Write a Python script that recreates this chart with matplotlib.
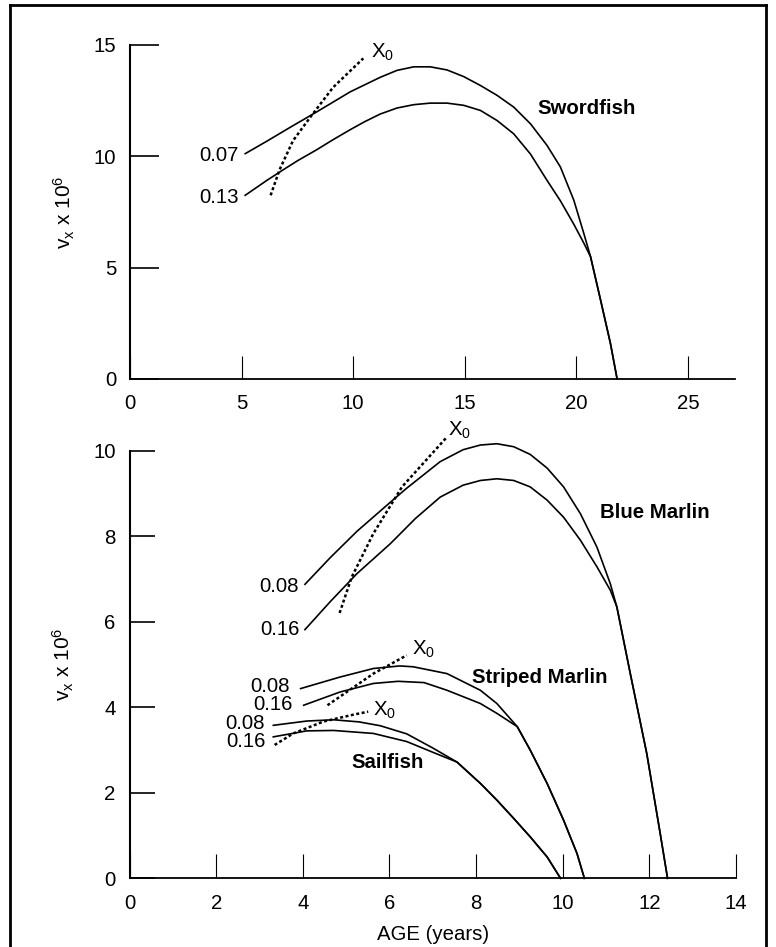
import matplotlib
matplotlib.use("Agg")
import matplotlib.pyplot as plt
from matplotlib.lines import Line2D

plt.rcParams['font.family'] = ['Liberation Sans', 'DejaVu Sans']
plt.rcParams['mathtext.fontset'] = 'custom'
plt.rcParams['mathtext.rm'] = 'Liberation Sans'
plt.rcParams['mathtext.default'] = 'regular'

# swordfish (top panel)
sword_age_07 = [5.16, 6.13, 7.17, 8.37, 9.87, 11.21, 11.96, 12.71, 13.45, 14.2, 14.95, 15.7, 16.44, 17.19,
                17.94, 18.68, 19.28, 19.88, 20.33, 20.63, 21.08, 21.52, 21.82]
sword_v_07 = [10.12, 10.68, 11.3, 12.0, 12.9, 13.55, 13.86, 14.02, 14.02, 13.88, 13.58, 13.18, 12.74, 12.21,
              11.46, 10.49, 9.52, 8.03, 6.53, 5.49, 3.54, 1.6, 0]
sword_age_13 = [5.16, 6.13, 6.87, 7.5, 8.37, 9.1, 9.87, 10.5, 11.21, 11.96, 12.71, 13.45, 14.2, 14.95, 15.7,
                16.44, 17.19, 17.94, 18.68, 19.28, 19.88, 20.33, 20.63, 21.08, 21.52, 21.82]
sword_v_13 = [8.25, 8.92, 9.4, 9.8, 10.3, 10.75, 11.2, 11.55, 11.9, 12.17, 12.32, 12.39, 12.39, 12.29, 12.06,
              11.61, 11.01, 10.1, 8.92, 8.0, 6.95, 6.1, 5.49, 3.54, 1.6, 0]
sword_x0_age = [6.3, 6.7, 7.3, 8.07, 9.1, 10.45]
sword_x0_v = [8.25, 9.4, 10.7, 11.75, 13.1, 14.4]

# blue marlin
blue_age_08 = [4.05, 4.63, 5.25, 6.02, 6.4, 7.17, 7.7, 8.1, 8.48, 8.87, 9.25, 9.64, 10.02, 10.41, 10.79,
               11.1, 11.25, 11.56, 11.94, 12.25, 12.42]
blue_v_08 = [6.88, 7.5, 8.12, 8.8, 9.13, 9.75, 10.03, 10.14, 10.17, 10.1, 9.92, 9.6, 9.16, 8.53, 7.75,
             6.89, 6.35, 4.79, 2.92, 1.05, 0]
blue_age_16 = [4.05, 4.63, 5.25, 6.02, 6.6, 7.17, 7.7, 8.1, 8.48, 8.87, 9.25, 9.64, 10.02, 10.41, 10.79,
               11.1, 11.25, 11.56, 11.94, 12.25, 12.42]
blue_v_16 = [5.82, 6.47, 7.13, 7.83, 8.42, 8.92, 9.2, 9.31, 9.35, 9.31, 9.16, 8.85, 8.45, 7.91, 7.29,
             6.74, 6.35, 4.79, 2.92, 1.05, 0]
blue_x0_age = [4.85, 5.13, 5.63, 6.29, 7.33]
blue_x0_v = [6.21, 7.05, 8.07, 9.16, 10.33]

# striped marlin
striped_age_08 = [3.95, 4.86, 5.63, 6.24, 6.55, 7.33, 8.1, 8.48, 8.95, 9.25, 9.64, 10.02, 10.33, 10.5]
striped_v_08 = [4.44, 4.71, 4.91, 4.97, 4.95, 4.79, 4.4, 4.09, 3.55, 3.0, 2.22, 1.36, 0.58, 0]
striped_age_16 = [4.02, 4.86, 5.63, 6.2, 6.8, 7.33, 8.1, 8.48, 8.95, 9.25, 9.64, 10.02, 10.33, 10.5]
striped_v_16 = [4.05, 4.36, 4.56, 4.61, 4.58, 4.4, 4.09, 3.86, 3.55, 3.0, 2.22, 1.36, 0.58, 0]
striped_x0_age = [4.57, 5.63, 6.4]
striped_x0_v = [4.05, 4.79, 5.22]

# sailfish
sail_age_08 = [3.32, 4.09, 4.71, 5.3, 5.79, 6.4, 7.0, 7.56, 8.1, 8.48, 8.87, 9.25, 9.64, 9.95]
sail_v_08 = [3.58, 3.68, 3.71, 3.66, 3.57, 3.38, 3.05, 2.72, 2.22, 1.83, 1.4, 0.97, 0.5, 0]
sail_age_16 = [3.32, 4.09, 4.71, 5.63, 6.4, 7.0, 7.56, 8.1, 8.48, 8.87, 9.25, 9.64, 9.95]
sail_v_16 = [3.31, 3.45, 3.46, 3.39, 3.2, 2.95, 2.72, 2.22, 1.83, 1.4, 0.97, 0.5, 0]
sail_x0_age = [3.35, 3.78, 4.48, 5.17, 5.51]
sail_x0_v = [3.12, 3.39, 3.67, 3.83, 3.9]

ylab = r"v$_{\mathregular{x}}$ x 10$^{\mathregular{6}}$"
fs = 14.7
lw = 1.2
dash = dict(color='k', lw=1.8, linestyle=(0, (1.2, 1.0)), clip_on=False)
solid = dict(color='k', lw=lw, clip_on=False)

fig = plt.figure(figsize=(7.76, 9.47), dpi=100)

# frame around the figure
fy = 1 - 5/947
fig.add_artist(Line2D([10/776, 10/776], [0, fy], color='k', lw=2, transform=fig.transFigure))
fig.add_artist(Line2D([10/776, 766/776], [fy, fy], color='k', lw=2, transform=fig.transFigure))
fig.add_artist(Line2D([766/776, 766/776], [0, fy], color='k', lw=2, transform=fig.transFigure))


def style(ax, xlen, ylen):
    for s in ['top', 'right']:
        ax.spines[s].set_visible(False)
    ax.spines['left'].set_linewidth(1.5)
    ax.spines['bottom'].set_linewidth(1.3)
    ax.tick_params(axis='x', direction='in', length=xlen, width=0.8, pad=11, labelsize=fs)
    ax.tick_params(axis='y', direction='in', length=ylen, width=1.2, pad=10, labelsize=fs)
    ax.set_ylabel(ylab, fontsize=15)
    ax.yaxis.set_label_coords(-0.088, 0.5)


# top panel
ax1 = fig.add_axes([130/776, 1 - 379/947, 605/776, 334/947])
ax1.set_xlim(0, 27.1)
ax1.set_ylim(0, 15)
ax1.set_xticks([0, 5, 10, 15, 20, 25])
ax1.set_yticks([0, 5, 10, 15])
style(ax1, 16.5, 21)
ax1.plot(sword_age_07, sword_v_07, **solid)
ax1.plot(sword_age_13, sword_v_13, **solid)
ax1.plot(sword_x0_age, sword_x0_v, **dash)
ax1.text(4.86, 10.04, "0.07", ha='right', va='center', fontsize=fs)
ax1.text(4.86, 8.15, "0.13", ha='right', va='center', fontsize=fs)
ax1.text(10.79, 14.68, "X$_0$", ha='left', va='center', fontsize=fs, clip_on=False)
ax1.text(18.24, 12.14, "Swordfish", ha='left', va='center', fontsize=fs, fontweight='bold')

# bottom panel
ax2 = fig.add_axes([129.5/776, 1 - 878.3/947, 606.5/776, 427.3/947])
ax2.set_xlim(0, 14)
ax2.set_ylim(0, 10)
ax2.set_xticks(range(0, 15, 2))
ax2.set_yticks(range(0, 11, 2))
style(ax2, 17, 18)
for a, v in [(blue_age_08, blue_v_08), (blue_age_16, blue_v_16),
             (striped_age_08, striped_v_08), (striped_age_16, striped_v_16),
             (sail_age_08, sail_v_08), (sail_age_16, sail_v_16)]:
    ax2.plot(a, v, **solid)
ax2.plot(blue_x0_age, blue_x0_v, **dash)
ax2.plot(striped_x0_age, striped_x0_v, **dash)
ax2.plot(sail_x0_age, sail_x0_v, **dash)

ax2.text(3.9, 6.82, "0.08", ha='right', va='center', fontsize=fs)
ax2.text(3.92, 5.82, "0.16", ha='right', va='center', fontsize=fs)
ax2.text(3.69, 4.5, "0.08", ha='right', va='center', fontsize=fs)
ax2.text(3.76, 4.07, "0.16", ha='right', va='center', fontsize=fs)
ax2.text(3.13, 3.62, "0.08", ha='right', va='center', fontsize=fs)
ax2.text(3.15, 3.19, "0.16", ha='right', va='center', fontsize=fs)
ax2.text(7.36, 10.48, "X$_0$", ha='left', va='center', fontsize=fs, clip_on=False)
ax2.text(6.52, 5.35, "X$_0$", ha='left', va='center', fontsize=fs)
ax2.text(5.63, 3.92, "X$_0$", ha='left', va='center', fontsize=fs)
ax2.text(10.87, 8.57, "Blue Marlin", ha='left', va='center', fontsize=fs, fontweight='bold')
ax2.text(7.9, 4.7, "Striped Marlin", ha='left', va='center', fontsize=fs, fontweight='bold')
ax2.text(5.13, 2.71, "Sailfish", ha='left', va='center', fontsize=fs, fontweight='bold')
ax2.set_xlabel("AGE (years)", fontsize=fs, labelpad=9)

fig.savefig("out.png", dpi=100)
